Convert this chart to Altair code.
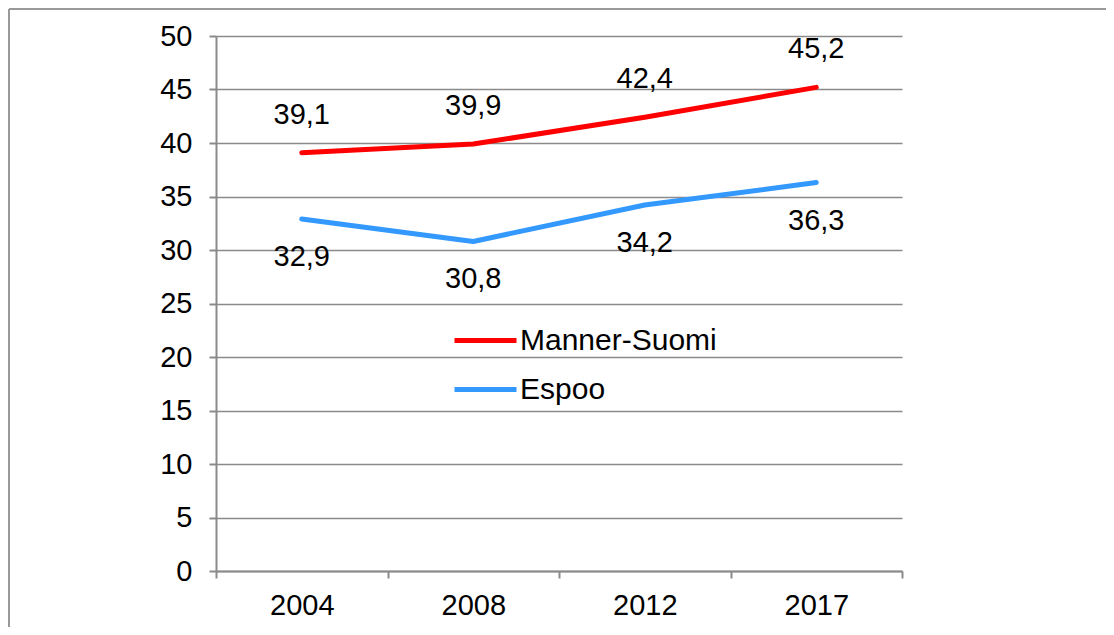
import altair as alt
import pandas as pd

years = ["2004", "2008", "2012", "2017"]
manner = [39.1, 39.9, 42.4, 45.2]
espoo = [32.9, 30.8, 34.2, 36.3]
series = ["Manner-Suomi", "Espoo"]
colors = ["#ff0000", "#3399ff"]

rows = []
for yr, m, e in zip(years, manner, espoo):
    rows.append({"year": yr, "series": series[0], "value": m})
    rows.append({"year": yr, "series": series[1], "value": e})
df = pd.DataFrame(rows)

FONT = "Arial, Liberation Sans, sans-serif"
GRID = "#8a8a8a"

x_enc = alt.X(
    "year:N", sort=years, title=None, bandPosition=0.5,
    scale=alt.Scale(type="band", paddingInner=0, paddingOuter=0),
    axis=alt.Axis(labelAngle=0, tickBand="extent", tickSize=7, tickWidth=2,
                  tickColor=GRID, domainColor=GRID, domainWidth=2,
                  labelFontSize=29, labelFont=FONT, labelColor="#000000",
                  labelPadding=13, grid=False),
)
y_enc = alt.Y(
    "value:Q", title=None,
    scale=alt.Scale(domain=[0, 50], nice=False, zero=True),
    axis=alt.Axis(values=list(range(0, 51, 5)), tickSize=7, tickWidth=2,
                  tickColor=GRID, domainColor=GRID, domainWidth=2,
                  grid=True, gridColor=GRID, gridWidth=1.6,
                  labelFontSize=29, labelFont=FONT, labelColor="#000000",
                  labelPadding=17),
)
color_enc = alt.Color(
    "series:N", sort=series,
    scale=alt.Scale(domain=series, range=colors),
    legend=alt.Legend(orient="none", legendX=236, legendY=271, title=None,
                      symbolType="stroke", symbolSize=3844, symbolStrokeWidth=5,
                      labelFontSize=30, labelFont=FONT, labelColor="#000000",
                      labelOffset=1, labelLimit=400, rowPadding=-12, padding=0),
)

base = alt.Chart(df)

lines = base.mark_line(strokeWidth=5, strokeCap="round", strokeJoin="round").encode(
    x=x_enc, y=y_enc, color=color_enc, order=alt.Order("year:N")
)

labels_top = base.transform_filter(alt.datum.series == series[0]).transform_calculate(
    lab="replace(format(datum.value, '.1f'), '.', ',')"
).mark_text(dy=-38, fontSize=29, font=FONT, color="#000000").encode(
    x=x_enc, y=y_enc, text="lab:N"
)
labels_bot = base.transform_filter(alt.datum.series == series[1]).transform_calculate(
    lab="replace(format(datum.value, '.1f'), '.', ',')"
).mark_text(dy=38, fontSize=29, font=FONT, color="#000000").encode(
    x=x_enc, y=y_enc, text="lab:N"
)

frame_df = pd.DataFrame({"frame": [0]})
frame_top = alt.Chart(frame_df).mark_rule(color="#999999", strokeWidth=2).encode(
    x=alt.value(-207), x2=alt.value(900), y=alt.value(-27)
)
frame_left = alt.Chart(frame_df).mark_rule(color="#999999", strokeWidth=2).encode(
    x=alt.value(-207), y=alt.value(-27), y2=alt.value(600)
)

chart = alt.layer(frame_top, frame_left, lines, labels_top, labels_bot).properties(
    width=686, height=535,
    padding={"left": 208, "top": 28, "right": 204, "bottom": 56},
    autosize=alt.AutoSizeParams(type="none"),
    background="#ffffff",
).configure_view(stroke=None)

chart.save("out.html", embed_options={"renderer": "svg", "actions": False})
